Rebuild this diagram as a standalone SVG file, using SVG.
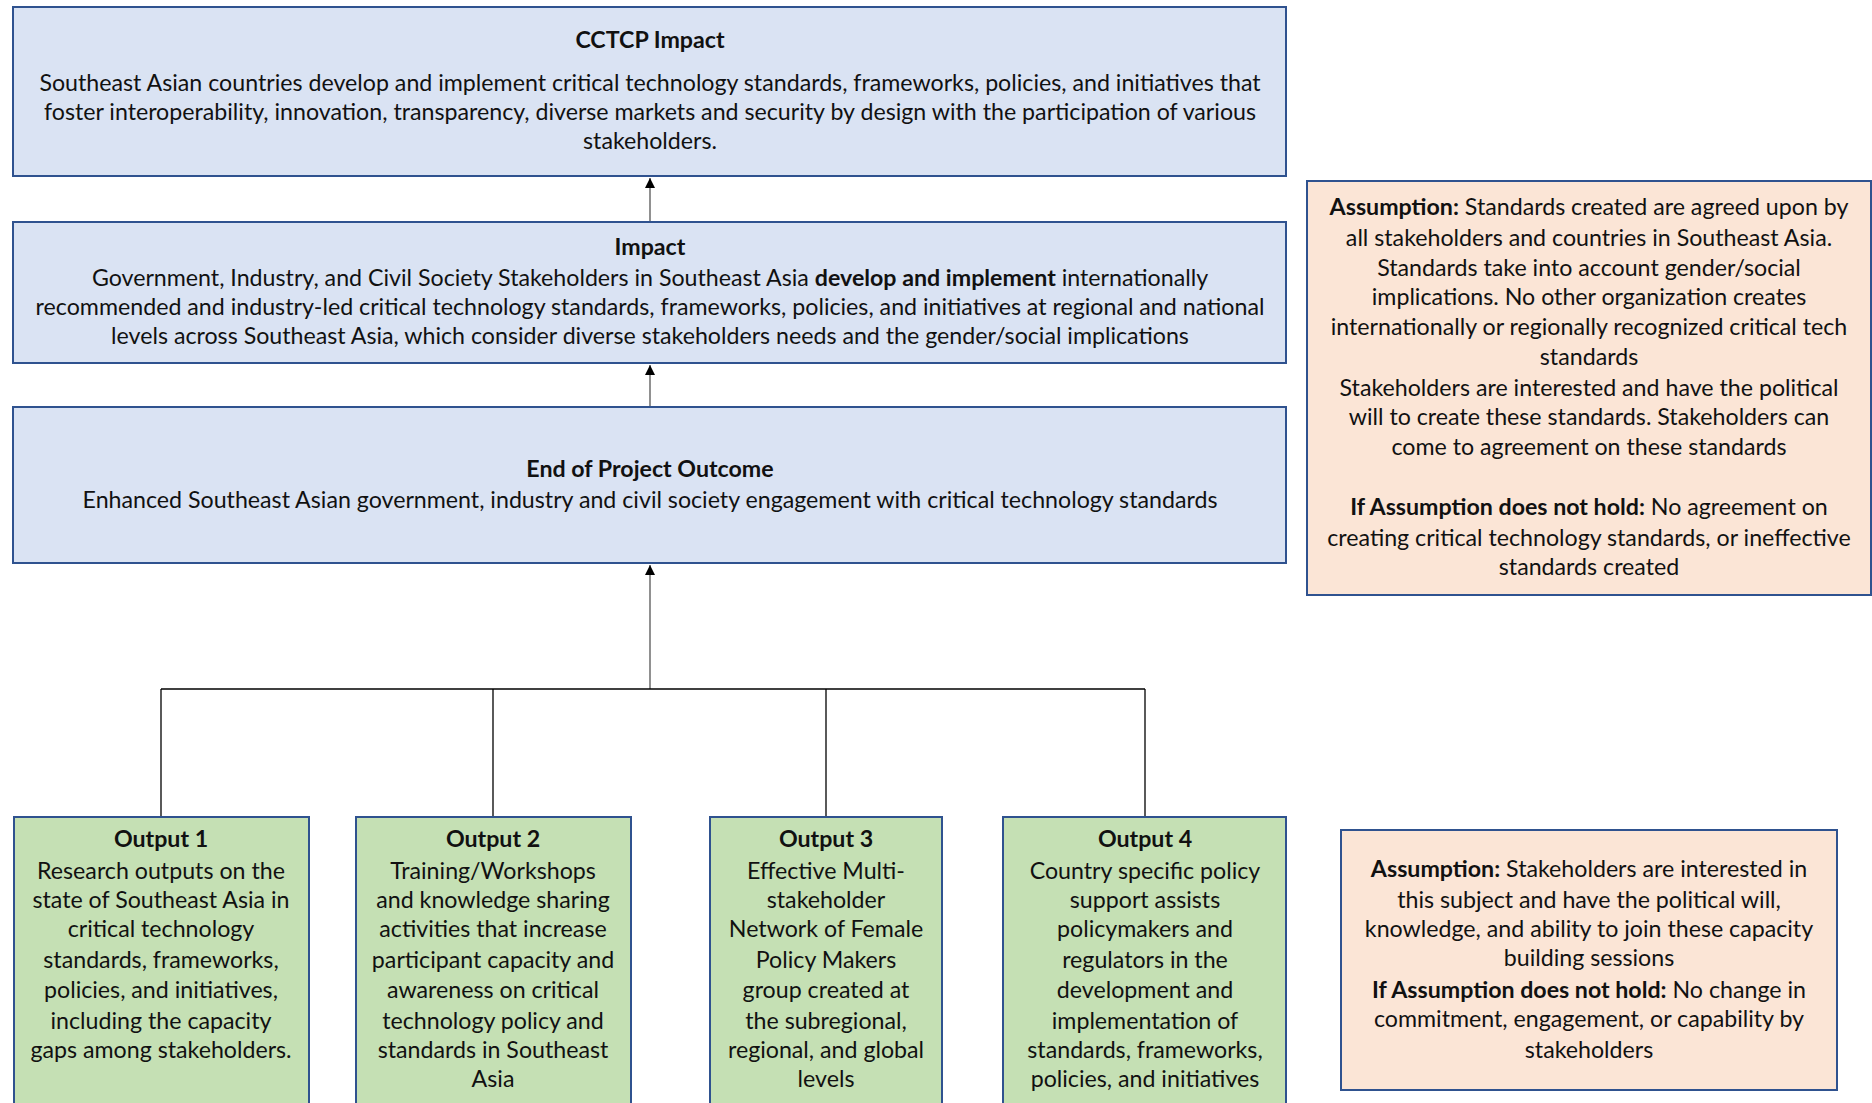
<svg xmlns="http://www.w3.org/2000/svg" width="1872" height="1103" viewBox="0 0 1872 1103">
<style>
text{font-family:Lato,"Open Sans","Liberation Sans",sans-serif;font-size:23.2px;fill:#111;text-anchor:middle}
.b{font-weight:bold}
.blue{fill:#DAE3F3;stroke:#2F528F;stroke-width:2}
.green{fill:#C5E0B4;stroke:#2F528F;stroke-width:2}
.peach{fill:#FBE5D6;stroke:#2F528F;stroke-width:2}
.con{stroke:#000;stroke-width:1.3;fill:none}
.arr{stroke:#555;stroke-width:1.3;fill:none}
</style>
<defs>
<marker id="ah" viewBox="0 0 10 10" refX="10" refY="5" markerWidth="10" markerHeight="10" markerUnits="userSpaceOnUse" orient="auto">
<path d="M0,0 L10,5 L0,10 z" fill="#000"/>
</marker>
</defs>
<rect width="1872" height="1103" fill="#fff"/>

<g id="connectors">
<line class="arr" x1="650" y1="222" x2="650" y2="178" marker-end="url(#ah)"/>
<line class="arr" x1="650" y1="407" x2="650" y2="365" marker-end="url(#ah)"/>
<line class="arr" x1="650" y1="689" x2="650" y2="565" marker-end="url(#ah)"/>
<line class="con" x1="161" y1="689" x2="1145" y2="689"/>
<line class="con" x1="161" y1="689" x2="161" y2="817"/>
<line class="con" x1="493" y1="689" x2="493" y2="817" stroke-width="2"/>
<line class="con" x1="826" y1="689" x2="826" y2="817"/>
<line class="con" x1="1145" y1="689" x2="1145" y2="817"/>
</g>

<g id="cctcp-impact">
<rect class="blue" x="13" y="7" width="1273" height="169"/>
<text class="b" x="650" y="48">CCTCP Impact</text>
<text x="650" y="91">Southeast Asian countries develop and implement critical technology standards, frameworks, policies, and initiatives that</text>
<text x="650" y="120">foster interoperability, innovation, transparency, diverse markets and security by design with the participation of various</text>
<text x="650" y="149">stakeholders.</text>
</g>

<g id="impact">
<rect class="blue" x="13" y="222" width="1273" height="141"/>
<text class="b" x="650" y="255">Impact</text>
<text x="650" y="286">Government, Industry, and Civil Society Stakeholders in Southeast Asia <tspan class="b">develop and implement</tspan> internationally</text>
<text x="650" y="315">recommended and industry-led critical technology standards, frameworks, policies, and initiatives at regional and national</text>
<text x="650" y="344">levels across Southeast Asia, which consider diverse stakeholders needs and the gender/social implications</text>
</g>

<g id="end-outcome">
<rect class="blue" x="13" y="407" width="1273" height="156"/>
<text class="b" x="650" y="477">End of Project Outcome</text>
<text x="650" y="508">Enhanced Southeast Asian government, industry and civil society engagement with critical technology standards</text>
</g>

<g id="output1">
<rect class="green" x="14" y="817" width="295" height="300"/>
<text class="b" x="161" y="847">Output 1</text>
<text x="161" y="879">Research outputs on the</text>
<text x="161" y="908">state of Southeast Asia in</text>
<text x="161" y="937">critical technology</text>
<text x="161" y="968">standards, frameworks,</text>
<text x="161" y="998">policies, and initiatives,</text>
<text x="161" y="1029">including the capacity</text>
<text x="161" y="1058">gaps among stakeholders.</text>
</g>

<g id="output2">
<rect class="green" x="356" y="817" width="275" height="300"/>
<text class="b" x="493" y="847">Output 2</text>
<text x="493" y="879">Training/Workshops</text>
<text x="493" y="908">and knowledge sharing</text>
<text x="493" y="937">activities that increase</text>
<text x="493" y="968">participant capacity and</text>
<text x="493" y="998">awareness on critical</text>
<text x="493" y="1029">technology policy and</text>
<text x="493" y="1058">standards in Southeast</text>
<text x="493" y="1087">Asia</text>
</g>

<g id="output3">
<rect class="green" x="710" y="817" width="232" height="300"/>
<text class="b" x="826" y="847">Output 3</text>
<text x="826" y="879">Effective Multi-</text>
<text x="826" y="908">stakeholder</text>
<text x="826" y="937">Network of Female</text>
<text x="826" y="968">Policy Makers</text>
<text x="826" y="998">group created at</text>
<text x="826" y="1029">the subregional,</text>
<text x="826" y="1058">regional, and global</text>
<text x="826" y="1087">levels</text>
</g>

<g id="output4">
<rect class="green" x="1003" y="817" width="283" height="300"/>
<text class="b" x="1145" y="847">Output 4</text>
<text x="1145" y="879">Country specific policy</text>
<text x="1145" y="908">support assists</text>
<text x="1145" y="937">policymakers and</text>
<text x="1145" y="968">regulators in the</text>
<text x="1145" y="998">development and</text>
<text x="1145" y="1029">implementation of</text>
<text x="1145" y="1058">standards, frameworks,</text>
<text x="1145" y="1087">policies, and initiatives</text>
</g>

<g id="assumption1">
<rect class="peach" x="1307" y="181" width="564" height="414"/>
<text x="1589" y="215"><tspan class="b">Assumption:</tspan> Standards created are agreed upon by</text>
<text x="1589" y="246">all stakeholders and countries in Southeast Asia.</text>
<text x="1589" y="276">Standards take into account gender/social</text>
<text x="1589" y="305">implications. No other organization creates</text>
<text x="1589" y="335">internationally or regionally recognized critical tech</text>
<text x="1589" y="365">standards</text>
<text x="1589" y="396">Stakeholders are interested and have the political</text>
<text x="1589" y="425">will to create these standards. Stakeholders can</text>
<text x="1589" y="455">come to agreement on these standards</text>
<text x="1589" y="515"><tspan class="b">If Assumption does not hold:</tspan> No agreement on</text>
<text x="1589" y="546">creating critical technology standards, or ineffective</text>
<text x="1589" y="575">standards created</text>
</g>

<g id="assumption2">
<rect class="peach" x="1341" y="830" width="496" height="260"/>
<text x="1589" y="877"><tspan class="b">Assumption:</tspan> Stakeholders are interested in</text>
<text x="1589" y="908">this subject and have the political will,</text>
<text x="1589" y="937">knowledge, and ability  to join these capacity</text>
<text x="1589" y="966">building sessions</text>
<text x="1589" y="998"><tspan class="b">If Assumption does not hold:</tspan> No change in</text>
<text x="1589" y="1027">commitment, engagement, or capability by</text>
<text x="1589" y="1058">stakeholders</text>
</g>
</svg>
